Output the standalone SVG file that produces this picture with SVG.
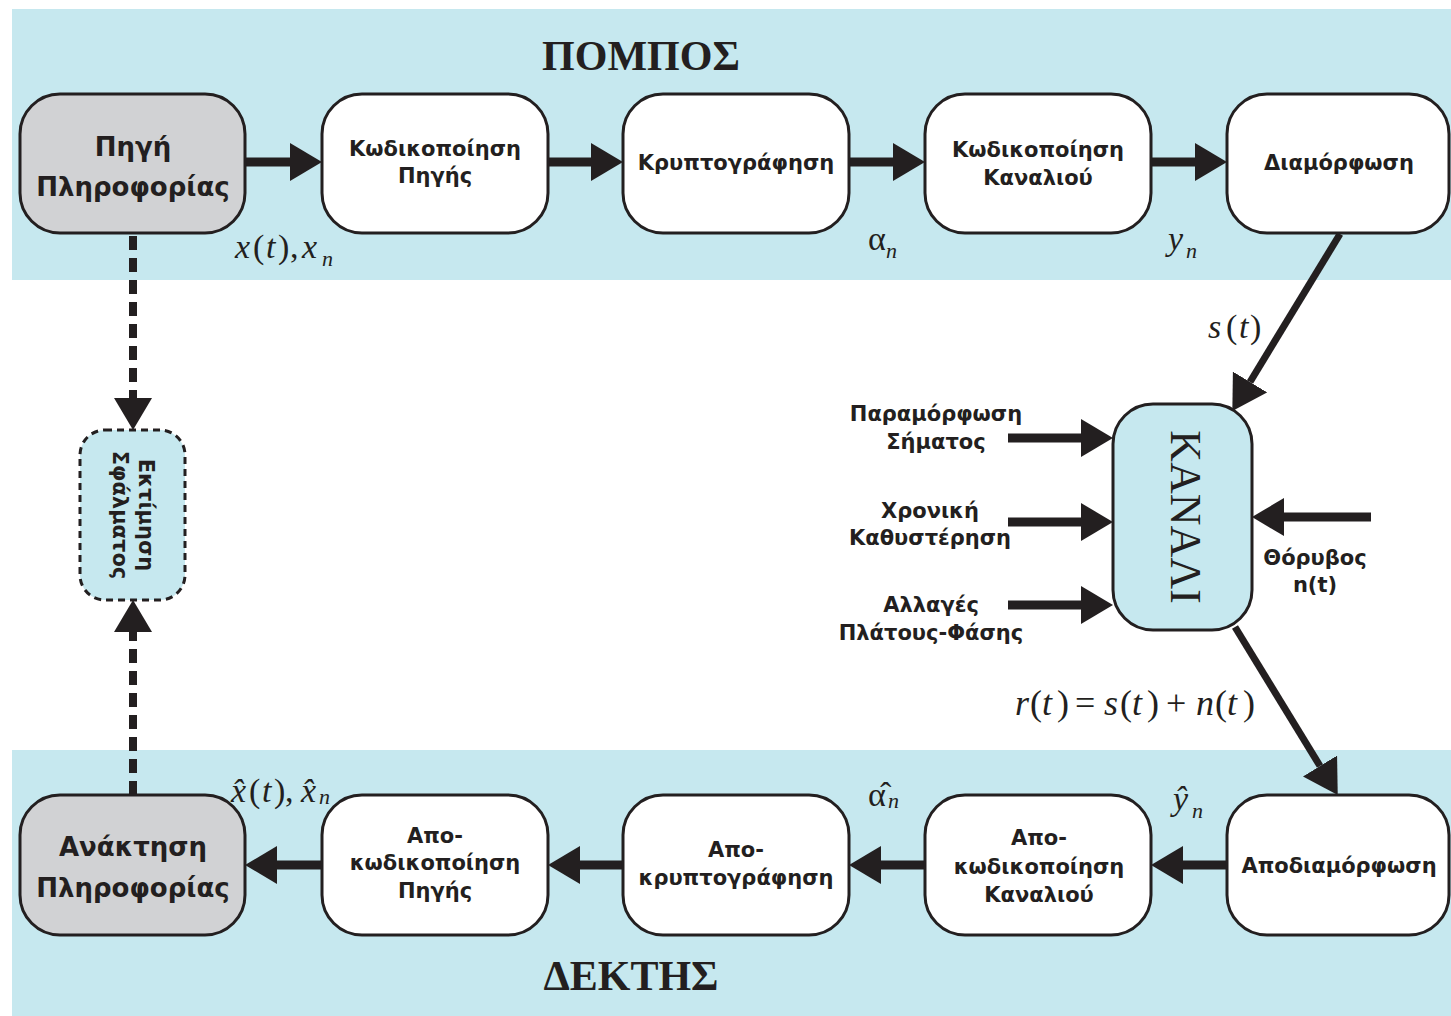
<svg xmlns="http://www.w3.org/2000/svg" width="1451" height="1016" viewBox="0 0 1451 1016">
<style>
.band{fill:#c6e8ef}
.box{fill:#ffffff;stroke:#231f20;stroke-width:3}
.gray{fill:#d1d2d4;stroke:#231f20;stroke-width:3}
.chan{fill:#c6e8ef;stroke:#231f20;stroke-width:3}
.est{fill:#c6e8ef;stroke:#231f20;stroke-width:3;stroke-dasharray:7 5}
.t{font-family:"DejaVu Sans",Verdana,sans-serif;font-weight:bold;font-size:21px;fill:#231f20;text-anchor:middle}
.tg{font-family:"DejaVu Sans",Verdana,sans-serif;font-weight:bold;font-size:26px;fill:#231f20;text-anchor:middle}
.title{font-family:"Liberation Serif","Times New Roman",serif;font-weight:bold;font-size:42px;fill:#231f20;text-anchor:middle}
.m{font-family:"Liberation Serif","Times New Roman",serif;font-size:34px;fill:#231f20}
.i{font-style:italic}
.sub{font-style:italic;font-size:22px}
.ln{stroke:#231f20;stroke-width:9;fill:none}
.dg{stroke:#231f20;stroke-width:7;fill:none}
.ds{stroke:#231f20;stroke-width:8;fill:none;stroke-dasharray:14 8}
</style>
<defs>
<marker id="ah" markerUnits="userSpaceOnUse" viewBox="0 0 32 38" refX="0" refY="19" markerWidth="32" markerHeight="38" orient="auto">
<path d="M0,0 L32,19 L0,38 z" fill="#231f20"/>
</marker>
<marker id="ah2" markerUnits="userSpaceOnUse" viewBox="0 0 34 40" refX="0" refY="20" markerWidth="34" markerHeight="40" orient="auto">
<path d="M0,0 L34,20 L0,40 z" fill="#231f20"/>
</marker>
</defs>

<rect class="band" x="12" y="9" width="1439" height="271"/>
<rect class="band" x="12" y="750" width="1439" height="266"/>

<text class="title" x="641" y="70">ΠΟΜΠΟΣ</text>
<text class="title" x="631" y="990">ΔΕΚΤΗΣ</text>

<g id="connectors">
<line class="ln" x1="245" y1="162" x2="290" y2="162" marker-end="url(#ah)"/>
<line class="ln" x1="548" y1="162" x2="591" y2="162" marker-end="url(#ah)"/>
<line class="ln" x1="849" y1="162" x2="893" y2="162" marker-end="url(#ah)"/>
<line class="ln" x1="1151" y1="162" x2="1195" y2="162" marker-end="url(#ah)"/>
<line class="ln" x1="322" y1="865" x2="277" y2="865" marker-end="url(#ah)"/>
<line class="ln" x1="623" y1="865" x2="580" y2="865" marker-end="url(#ah)"/>
<line class="ln" x1="925" y1="865" x2="881" y2="865" marker-end="url(#ah)"/>
<line class="ln" x1="1227" y1="865" x2="1183" y2="865" marker-end="url(#ah)"/>
<line class="dg" x1="1340" y1="234" x2="1250" y2="382" marker-end="url(#ah2)"/>
<line class="dg" x1="1235" y1="627" x2="1320" y2="766" marker-end="url(#ah2)"/>
<line class="ln" x1="1008" y1="438" x2="1081" y2="438" marker-end="url(#ah)"/>
<line class="ln" x1="1008" y1="522" x2="1081" y2="522" marker-end="url(#ah)"/>
<line class="ln" x1="1008" y1="605" x2="1081" y2="605" marker-end="url(#ah)"/>
<line class="ln" x1="1371" y1="517" x2="1284" y2="517" marker-end="url(#ah)"/>
<line class="ds" x1="133" y1="236" x2="133" y2="398" marker-end="url(#ah)"/>
<line class="ds" x1="133" y1="795" x2="133" y2="632" marker-end="url(#ah)"/>
</g>

<g id="n-source">
<rect class="gray" x="20" y="94" width="225" height="139" rx="40"/>
<text class="tg" x="133" y="156">Πηγή</text>
<text class="tg" x="133" y="196">Πληροφορίας</text>
</g>
<g id="n-srcenc">
<rect class="box" x="322" y="94" width="226" height="139" rx="40"/>
<text class="t" x="435" y="156">Κωδικοποίηση</text>
<text class="t" x="435" y="183">Πηγής</text>
</g>
<g id="n-crypt">
<rect class="box" x="623" y="94" width="226" height="139" rx="40"/>
<text class="t" x="736" y="170">Κρυπτογράφηση</text>
</g>
<g id="n-chenc">
<rect class="box" x="925" y="94" width="226" height="139" rx="40"/>
<text class="t" x="1038" y="157">Κωδικοποίηση</text>
<text class="t" x="1038" y="185">Καναλιού</text>
</g>
<g id="n-mod">
<rect class="box" x="1227" y="94" width="222" height="139" rx="40"/>
<text class="t" x="1339" y="170">Διαμόρφωση</text>
</g>

<g id="n-channel">
<rect class="chan" x="1113" y="404" width="139" height="226" rx="40"/>
<text transform="translate(1185,517) rotate(90)" x="0" y="14" style="font-family:'Liberation Serif','Times New Roman',serif;font-size:44px;fill:#231f20;text-anchor:middle">ΚΑΝΑΛΙ</text>
</g>

<g id="n-est">
<rect class="est" x="80" y="430" width="105" height="170" rx="25"/>
<g transform="translate(132,515) rotate(90)">
<text class="t" x="0" y="-7">Εκτίμηση</text>
<text class="t" x="0" y="19">Σφάλματος</text>
</g>
</g>

<g id="n-recover">
<rect class="gray" x="20" y="795" width="225" height="140" rx="40"/>
<text class="tg" x="133" y="856">Ανάκτηση</text>
<text class="tg" x="133" y="897">Πληροφορίας</text>
</g>
<g id="n-srcdec">
<rect class="box" x="322" y="795" width="226" height="140" rx="40"/>
<text class="t" x="435" y="843">Απο-</text>
<text class="t" x="435" y="870">κωδικοποίηση</text>
<text class="t" x="435" y="898">Πηγής</text>
</g>
<g id="n-decrypt">
<rect class="box" x="623" y="795" width="226" height="140" rx="40"/>
<text class="t" x="736" y="857">Απο-</text>
<text class="t" x="736" y="885">κρυπτογράφηση</text>
</g>
<g id="n-chdec">
<rect class="box" x="925" y="795" width="226" height="140" rx="40"/>
<text class="t" x="1039" y="845">Απο-</text>
<text class="t" x="1039" y="874">κωδικοποίηση</text>
<text class="t" x="1039" y="902">Καναλιού</text>
</g>
<g id="n-demod">
<rect class="box" x="1227" y="795" width="222" height="140" rx="40"/>
<text class="t" x="1339" y="873">Αποδιαμόρφωση</text>
</g>

<g id="channel-labels">
<text class="t" x="936" y="421">Παραμόρφωση</text>
<text class="t" x="936" y="449">Σήματος</text>
<text class="t" x="930" y="518">Χρονική</text>
<text class="t" x="930" y="545">Καθυστέρηση</text>
<text class="t" x="931" y="612">Αλλαγές</text>
<text class="t" x="931" y="640">Πλάτους-Φάσης</text>
<text class="t" x="1315" y="565">Θόρυβος</text>
<text class="t" x="1315" y="592">n(t)</text>
</g>

<g id="math">
<text class="m" y="258"><tspan class="i" x="235">x</tspan><tspan x="253">(</tspan><tspan class="i" x="266">t</tspan><tspan x="278">)</tspan><tspan x="290">,</tspan><tspan class="i" x="302">x</tspan><tspan class="sub" x="322" dy="8">n</tspan></text>
<text class="m" y="250"><tspan x="868">α</tspan><tspan class="sub" x="886" dy="8">n</tspan></text>
<text class="m" y="250"><tspan class="i" x="1168">y</tspan><tspan class="sub" x="1186" dy="8">n</tspan></text>
<text class="m" y="338"><tspan class="i" x="1208">s</tspan><tspan x="1226">(</tspan><tspan class="i" x="1239">t</tspan><tspan x="1250">)</tspan></text>
<text class="m" y="715" style="font-size:36px"><tspan class="i" x="1015">r</tspan><tspan x="1030">(</tspan><tspan class="i" x="1042">t</tspan><tspan x="1057">)</tspan><tspan x="1075">=</tspan><tspan class="i" x="1104">s</tspan><tspan x="1120">(</tspan><tspan class="i" x="1132">t</tspan><tspan x="1147">)</tspan><tspan x="1166">+</tspan><tspan class="i" x="1196">n</tspan><tspan x="1215">(</tspan><tspan class="i" x="1227">t</tspan><tspan x="1243">)</tspan></text>
<text class="m" y="802"><tspan class="i" x="231">x̂</tspan><tspan x="249">(</tspan><tspan class="i" x="262">t</tspan><tspan x="274">)</tspan><tspan x="285">,</tspan><tspan class="i" x="301">x̂</tspan><tspan class="sub" x="319" dy="2">n</tspan></text>
<text class="m" y="806"><tspan x="868">α̂</tspan><tspan class="sub" x="888" dy="2">n</tspan></text>
<text class="m" y="810"><tspan class="i" x="1173">ŷ</tspan><tspan class="sub" x="1192" dy="8">n</tspan></text>
</g>
</svg>
